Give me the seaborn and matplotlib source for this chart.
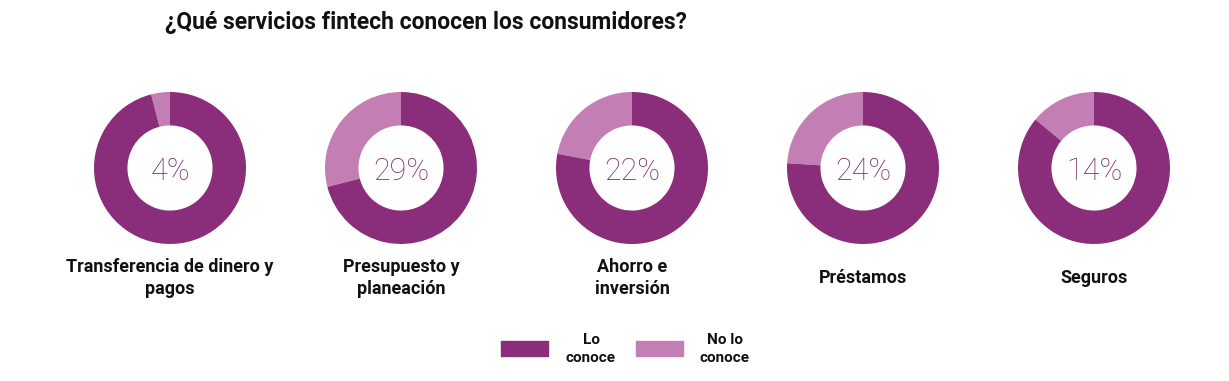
import matplotlib
matplotlib.use("Agg")
import matplotlib.pyplot as plt
from matplotlib.patches import Rectangle
import seaborn as sns

categories = ["Transferencia de dinero y\npagos", "Presupuesto y\nplaneación",
              "Ahorro e\ninversión", "Préstamos", "Seguros"]
no_conoce = [4, 29, 22, 24, 14]
conoce = [100 - v for v in no_conoce]
series_names = ["Lo\nconoce", "No lo\nconoce"]

DARK = "#8a2e7c"
LIGHT = "#c37eb4"

sns.set_theme(style="white")
plt.rcParams["font.family"] = ["Roboto", "DejaVu Sans"]

W, H = 1229, 381
fig = plt.figure(figsize=(W / 100, H / 100), dpi=100)
fig.patch.set_facecolor("white")


def fx(px):
    return px / W


def fy(py):
    return 1 - py / H


fig.text(fx(165), fy(23), "¿Qué servicios fintech conocen los consumidores?",
         fontsize=16.5, fontweight="bold", color="#111111", ha="left", va="center")

centers = [170, 401, 632, 863, 1094]
cy = 168
r_px = 76
for cx, cat, nc, c in zip(centers, categories, no_conoce, conoce):
    ax = fig.add_axes([fx(cx - r_px), fy(cy + r_px), fx(2 * r_px), 2 * r_px / H])
    ax.pie([nc, c], colors=[LIGHT, DARK], startangle=90, counterclock=True,
           radius=1, wedgeprops=dict(width=0.44, edgecolor="none"))
    ax.set_xlim(-1, 1)
    ax.set_ylim(-1, 1)
    ax.set_aspect("equal")
    ax.axis("off")
    ax.text(0, -0.04, f"{nc}%", ha="center", va="center", fontsize=22,
            fontweight="light", color="#7f2a73")
    fig.text(fx(cx), fy(278), cat, ha="center", va="center", fontsize=13,
             fontweight="bold", color="#111111", linespacing=1.25)

# legend
for x0, color, name, tx in [(501, DARK, series_names[0], 591),
                            (636, LIGHT, series_names[1], 725)]:
    fig.patches.append(Rectangle((fx(x0), fy(356)), fx(47), 15 / H,
                                 transform=fig.transFigure, color=color))
    fig.text(fx(tx), fy(349), name, ha="center", va="center", fontsize=11,
             fontweight="bold", color="#111111", linespacing=1.4)

fig.savefig("out.png", dpi=100)
